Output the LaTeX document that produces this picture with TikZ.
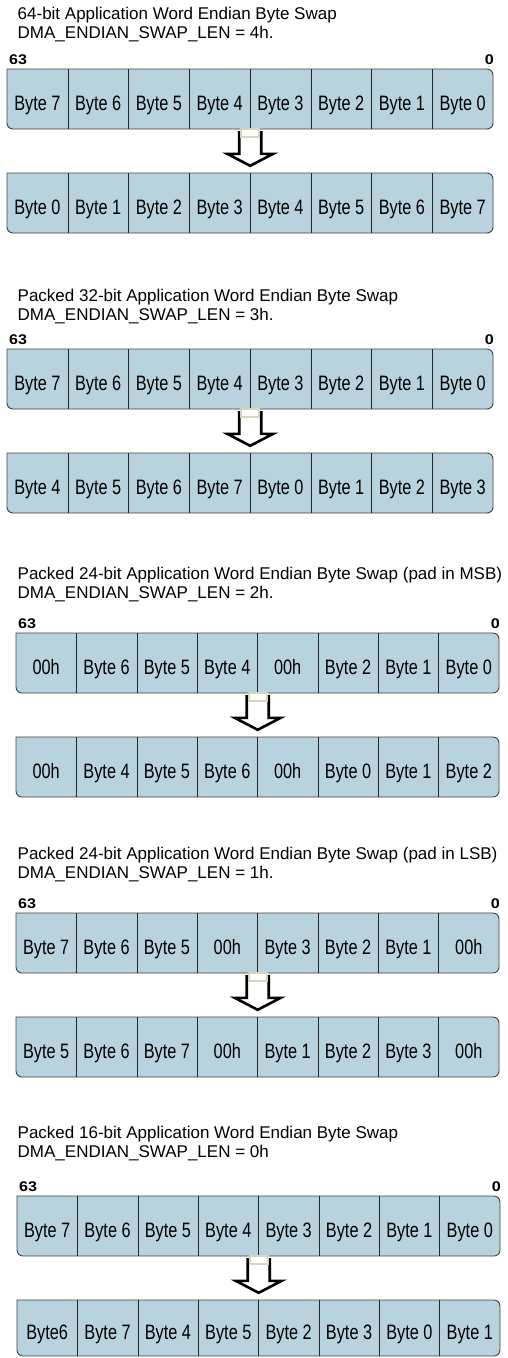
\documentclass[tikz,border=0pt]{standalone}
\usepackage{fontspec}
\setmainfont{Liberation Sans}
\usepackage{graphicx}
\usepackage{tikz}
\usetikzlibrary{calc}
\definecolor{BarBlue}{RGB}{185,211,222}
\definecolor{BarEdge}{RGB}{64,64,64}
\definecolor{TailBeige}{RGB}{214,214,192}

% one 64-bit word: name, left, right, top, height, list of byte labels
\newcommand{\bytebar}[6]{%
  \pgfmathsetmacro{\cw}{(#3-#2)/8}
  \path[bar] (#2,{#4+#5/2}) [rounded corners=6pt] -- (#2,{#4+#5}) -- (#3,{#4+#5})
        -- (#3,#4) -- ({(#2+#3)/2},#4) [sharp corners] -- (#2,#4) -- cycle;
  \foreach \c [count=\i] in #6
    \node[cell, minimum width=\cw pt, minimum height=#5pt] (#1-\i)
          at ({#2+(\i-0.5)*\cw},{#4+#5/2}) {\scalebox{1}[1.28]{\c}};
  \foreach \i in {1,...,7}
    \draw[divider] (#1-\i.north east) -- (#1-\i.south east);
}

\begin{document}
\begin{tikzpicture}[x=1pt, y=-1pt,
          bar/.style={draw=BarEdge, fill=BarBlue, line width=0.9pt},
          cell/.style={inner sep=0pt, text height=23pt, text depth=0pt,
                       font=\fontsize{16.3}{16}\selectfont},
          divider/.style={draw=black!85, line width=0.8pt},
          ttl/.style={anchor=base west, inner sep=0pt, font=\fontsize{17}{20}\selectfont},
          bitno/.style={inner sep=0pt, font=\bfseries\fontsize{14}{14}\selectfont},
          hollow/.style={draw=black, line width=2.6pt, fill=white, line join=miter},
          tailcap/.style={draw=TailBeige, line width=1.6pt, fill=white}
        ]
        \useasboundingbox (0,0) rectangle (508,1358);

        \foreach \s/\xl/\xr/\yt/\ya/\hb/\tone/\ttwo/\la/\lb in {
          1/7/493/19/69/60/{64-bit Application Word Endian Byte Swap}/{DMA\_ENDIAN\_SWAP\_LEN = 4h.}/%
            {Byte 7,Byte 6,Byte 5,Byte 4,Byte 3,Byte 2,Byte 1,Byte 0}/%
            {Byte 0,Byte 1,Byte 2,Byte 3,Byte 4,Byte 5,Byte 6,Byte 7},
          2/7/493/301/349/60/{Packed 32-bit Application Word Endian Byte Swap}/{DMA\_ENDIAN\_SWAP\_LEN = 3h.}/%
            {Byte 7,Byte 6,Byte 5,Byte 4,Byte 3,Byte 2,Byte 1,Byte 0}/%
            {Byte 4,Byte 5,Byte 6,Byte 7,Byte 0,Byte 1,Byte 2,Byte 3},
          3/16/499/579/633/60/{Packed 24-bit Application Word Endian Byte Swap (pad in MSB)}/{DMA\_ENDIAN\_SWAP\_LEN = 2h.}/%
            {00h,Byte 6,Byte 5,Byte 4,00h,Byte 2,Byte 1,Byte 0}/%
            {00h,Byte 4,Byte 5,Byte 6,00h,Byte 0,Byte 1,Byte 2},
          4/16/499/859/913/60/{Packed 24-bit Application Word Endian Byte Swap (pad in LSB)}/{DMA\_ENDIAN\_SWAP\_LEN = 1h.}/%
            {Byte 7,Byte 6,Byte 5,00h,Byte 3,Byte 2,Byte 1,00h}/%
            {Byte 5,Byte 6,Byte 7,00h,Byte 1,Byte 2,Byte 3,00h},
          5/17/500/1138/1196/56/{Packed 16-bit Application Word Endian Byte Swap}/{DMA\_ENDIAN\_SWAP\_LEN = 0h}/%
            {Byte 7,Byte 6,Byte 5,Byte 4,Byte 3,Byte 2,Byte 1,Byte 0}/%
            {Byte6,Byte 7,Byte 4,Byte 5,Byte 2,Byte 3,Byte 0,Byte 1}%
        }{
          \node[ttl] (s\s-t1) at (17.5,\yt) {\tone};
          \node[ttl] (s\s-t2) at (17.5,{\yt+19}) {\ttwo};
          \node[bitno, anchor=base west] (s\s-msb) at ({\xl+2},{\ya-5}) {\scalebox{1.15}[1]{63}};
          \node[bitno, anchor=base east] (s\s-lsb) at ({\xr+1},{\ya-5}) {\scalebox{1.15}[1]{0}};

          \bytebar{s\s-top}{\xl}{\xr}{\ya}{60}{\la}
          \bytebar{s\s-bot}{\xl}{\xr}{\ya+104}{\hb}{\lb}

          % swap arrow
          \coordinate (s\s-from) at (s\s-top-4.south east);
          \coordinate (s\s-to)   at (s\s-bot-4.north east);
          \draw[hollow] ($(s\s-from)+(-11,2)$) -- ($(s\s-to)+(-11,-19)$)
                -- ($(s\s-to)+(-23,-19)$) -- ($(s\s-to)+(0,-7)$)
                -- ($(s\s-to)+(23,-19)$) -- ($(s\s-to)+(11,-19)$)
                -- ($(s\s-from)+(11,2)$);
          \draw[tailcap] ($(s\s-from)+(-9,0)$) rectangle ($(s\s-from)+(9,8)$);
        }
      \end{tikzpicture}
\end{document}
